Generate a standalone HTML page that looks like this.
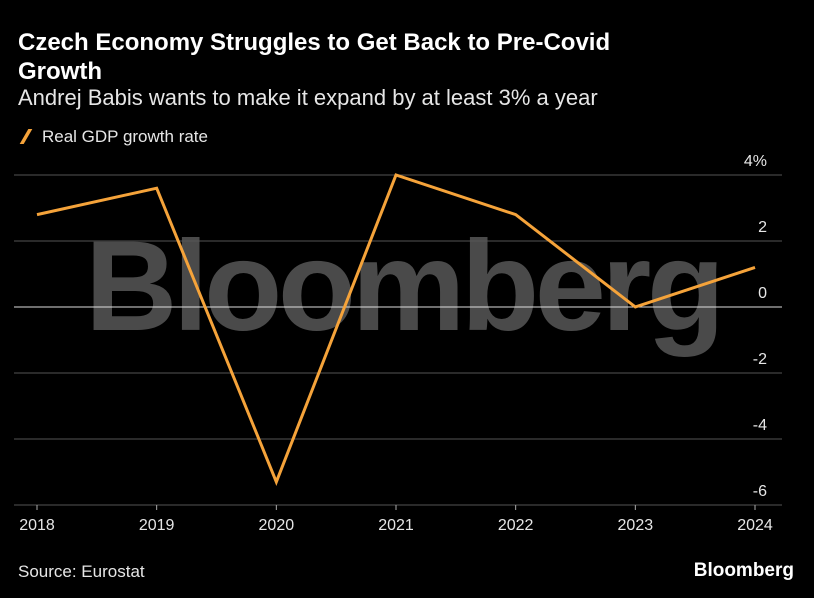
<!DOCTYPE html>
<html><head><meta charset="utf-8"><style>
body{margin:0;background:#000;width:814px;height:598px;overflow:hidden;font-family:"Liberation Sans",sans-serif;color:#fff}
#t{position:absolute;left:18px;top:28px;font-size:24px;font-weight:bold;line-height:29px;width:760px}
#s{position:absolute;left:18px;top:85px;font-size:22px;color:#e6e6e6}
#lg{position:absolute;left:18px;top:127px;font-size:17px;color:#e6e6e6}
#src{position:absolute;left:18px;top:562px;font-size:17px;color:#e6e6e6}
#logo{position:absolute;right:20px;top:560px;font-size:19px;font-weight:bold}
svg{position:absolute;left:0;top:0}
</style></head><body>
<div id="t">Czech Economy Struggles to Get Back to Pre-Covid<br>Growth</div>
<div id="s">Andrej Babis wants to make it expand by at least 3% a year</div>
<div id="lg"><span style="display:inline-block;width:4px;height:15px;background:#f5a33a;transform:skewX(-30deg);margin:0 14px 0 6px;vertical-align:-2px"></span>Real GDP growth rate</div>
<svg id="c" width="814" height="598"></svg>
<div id="src">Source: Eurostat</div>
<div id="logo">Bloomberg</div>
<script>
const years=["2018","2019","2020","2021","2022","2023","2024"];
const gdp=[2.8,3.6,-5.3,4.0,2.8,0.0,1.2];
const yTicks=[4,2,0,-2,-4,-6];
const yTickLabels=["4%","2","0","-2","-4","-6"];
const svg=document.getElementById('c');const NS="http://www.w3.org/2000/svg";
const x=i=>37+i*(755-37)/(years.length-1);
const y=v=>307-v*33;
function mk(t,a,txt){const e=document.createElementNS(NS,t);for(const k in a)e.setAttribute(k,a[k]);if(txt!=null)e.textContent=txt;svg.appendChild(e);return e;}
const wm=mk('text',{x:405,y:330,'text-anchor':'middle','font-size':128,'font-weight':'bold',fill:'#4a4a4a','font-family':'Liberation Sans, sans-serif','textLength':640},'Bloomberg');


yTicks.forEach((v,i)=>{
 const l=mk('line',{x1:14,x2:782,y1:y(v),y2:y(v),stroke:v===0?'#dddddd':'#555',"stroke-width":1});
 
 
 const t=mk('text',{x:767,y:y(v)-9,'text-anchor':'end','font-size':16,fill:'#e6e6e6'},yTickLabels[i]);
 
 
});
years.forEach((yr,i)=>{
 const tk=mk('line',{x1:x(i),x2:x(i),y1:505,y2:510,stroke:'#aaa'});
 
 
 const t=mk('text',{x:x(i),y:530,'text-anchor':'middle','font-size':16,fill:'#e6e6e6'},yr);
 
 
});
const p=mk('polyline',{points:gdp.map((v,i)=>x(i)+','+y(v)).join(' '),fill:'none',stroke:'#f5a33a','stroke-width':3,'stroke-linejoin':'miter'});


</script>
</body></html>
